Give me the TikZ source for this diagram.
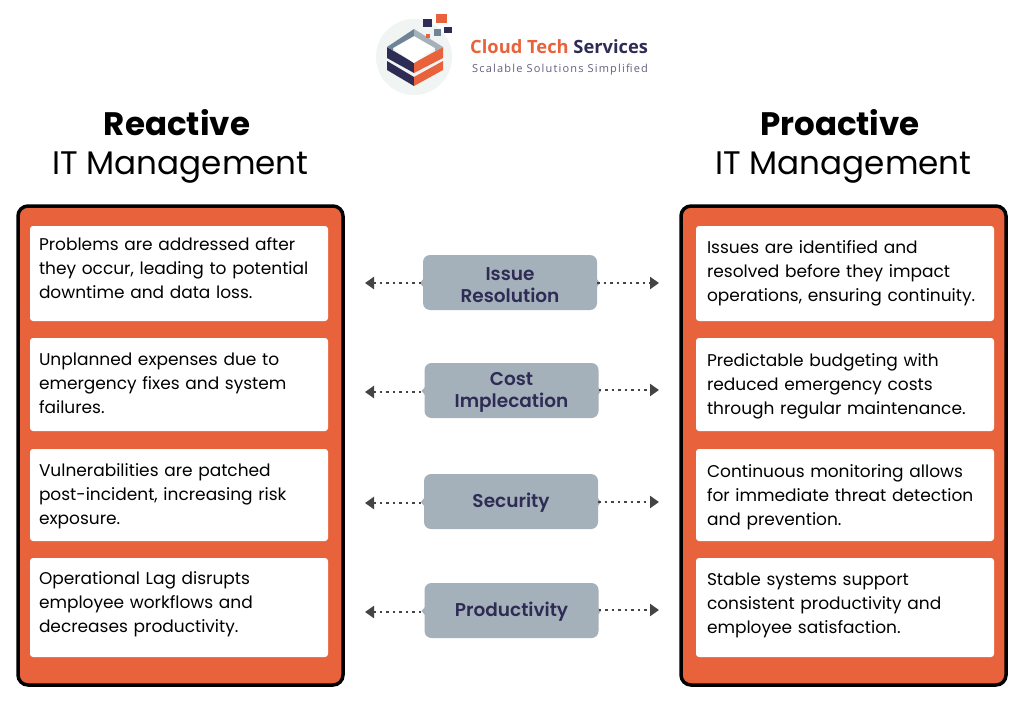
\documentclass[tikz,border=0pt]{standalone}
\usepackage{fontspec}
\setmainfont{Poppins}
\newfontfamily\tagfont{Poppins SemiBold}
\newfontfamily\logofont{Open Sans}
\newfontfamily\logosub[LetterSpace=10.8]{Open Sans}
\usetikzlibrary{positioning,arrows.meta}
\definecolor{panelorange}{HTML}{E8633B}
\definecolor{tagfill}{HTML}{A5B1BA}
\definecolor{navy}{HTML}{2E2C55}
\definecolor{slate}{HTML}{6F8597}
\definecolor{logoround}{HTML}{F0F4F3}
\definecolor{arrowgrey}{HTML}{444444}
\newcommand{\tagstrut}{\rule{0pt}{17.5pt}}
\begin{document}
\begin{tikzpicture}[x=1pt, y=-1pt,
    heading/.style={inner sep=0pt, font=\fontsize{32.6}{40}\selectfont},
    panel/.style={draw=black, line width=3.5pt, fill=panelorange, rounded corners=10pt, minimum width=325pt, minimum height=479pt},
    card/.style={fill=white, rounded corners=3pt, minimum width=298pt, inner sep=0pt},
    cardtext/.style={inner sep=0pt, text width=285pt, align=left, font=\fontsize{17}{24}\selectfont},
    tag/.style={fill=tagfill, rounded corners=7pt, minimum width=174pt, minimum height=55pt, inner sep=0pt, align=center, text=navy, font=\tagfont\fontsize{18.5}{22}\selectfont},
    nub/.style={fill=tagfill},
    link/.style={draw=arrowgrey, line width=2.3pt, dash pattern=on 2.3pt off 4.2pt}]
    \useasboundingbox (0,0) rectangle (1024,706);
    \fill[white] (0,0) rectangle (1024,706);

    % Logo
    \fill[logoround] (414,57) circle (38);
    \fill[navy] (387,47) -- (414,63) -- (414,73) -- (387,58) -- cycle;
    \fill[panelorange] (414,63) -- (443,47) -- (443,58) -- (414,73) -- cycle;
    \fill[navy] (387,61) -- (414,77) -- (414,86) -- (387,70) -- cycle;
    \fill[panelorange] (414,77) -- (443,61) -- (443,70) -- (414,86) -- cycle;
    \fill[white] (393,48) -- (414,36) -- (435,48) -- (414,63) -- cycle;
    \fill[slate] (387,47) -- (414,29) -- (414,36) -- (393,48) -- (393,50.5) -- cycle;
    \fill[tagfill] (414,29) -- (443,47) -- (435,51.5) -- (435,48) -- (414,36) -- cycle;
    \fill[panelorange] (436,14) rectangle (447,23);
    \fill[navy] (423,19) rectangle (432,27);
    \fill[navy] (444,27) rectangle (452,33);
    \fill[slate] (434,29) rectangle (441,36);
    \fill[panelorange] (426,34) rectangle (430,38);
    \node (brand) [inner sep=0pt, anchor=west, font=\logofont\fontsize{18.3}{22}\selectfont\bfseries] at (470,47) {\textcolor{panelorange}{Cloud Tech} \textcolor{navy}{Services}};
    \node (slogan) [inner sep=0pt, anchor=west, text=navy!75, font=\logosub\fontsize{11}{13}\selectfont] at (472,70) {Scalable Solutions Simplified};

    % Headings
    \node (reactive) [heading, font=\fontsize{32.5}{40}\selectfont\bfseries] at (177,122.5) {Reactive};
    \node (reactiveit) [heading] at (180.5,168) {IT Management};
    \node (proactive) [heading, font=\fontsize{32.5}{40}\selectfont\bfseries] at (840,122.5) {Proactive};
    \node (proactiveit) [heading] at (843.5,168) {IT Management};

    % Panels
    \node (left) [panel] at (180.5,445.5) {};
    \node (right) [panel] at (843.5,445.5) {};

    % Cards
    \node (l1) [card, minimum height=95pt] at (179,273.5) {};
    \node (l2) [card, minimum height=93pt] at (179,384.5) {};
    \node (l3) [card, minimum height=92pt] at (179,495) {};
    \node (l4) [card, minimum height=99pt] at (179,607.5) {};
    \node (r1) [card, minimum height=95pt] at (845,273.5) {};
    \node (r2) [card, minimum height=93pt] at (845,384.5) {};
    \node (r3) [card, minimum height=92pt] at (845,495) {};
    \node (r4) [card, minimum height=99pt] at (845,607.5) {};

    \node (lt1) [cardtext, right=9pt of l1.west, yshift=5.5pt] {Problems are addressed after\\they occur, leading to potential\\downtime and data loss.};
    \node (lt2) [cardtext, right=9pt of l2.west, yshift=1.5pt] {Unplanned expenses due to\\emergency fixes and system\\failures.};
    \node (lt3) [cardtext, right=9pt of l3.west, yshift=-1pt] {Vulnerabilities are patched\\post-incident, increasing risk\\exposure.};
    \node (lt4) [cardtext, right=9pt of l4.west, yshift=3.5pt] {Operational Lag disrupts\\employee workflows and\\decreases productivity.};
    \node (rt1) [cardtext, right=11pt of r1.west, yshift=0.5pt] {Issues are identified and\\resolved before they impact\\operations, ensuring continuity.};
    \node (rt2) [cardtext, right=11pt of r2.west, yshift=-1.5pt] {Predictable budgeting with\\reduced emergency costs\\through regular maintenance.};
    \node (rt3) [cardtext, right=11pt of r3.west, yshift=-2pt] {Continuous monitoring allows\\for immediate threat detection\\and prevention.};
    \node (rt4) [cardtext, right=11pt of r4.west, yshift=2.5pt] {Stable systems support\\consistent productivity and\\employee satisfaction.};

    % Tags
    \fill[nub] (420,283) -- (424,278) -- (424,288) -- cycle (600,283) -- (596,278) -- (596,288) -- cycle;
    \fill[nub] (421.5,391) -- (426,386) -- (426,396) -- cycle (601,391) -- (597,386) -- (597,396) -- cycle;
    \fill[nub] (421,502) -- (425,497) -- (425,507) -- cycle (601,502) -- (597,497) -- (597,507) -- cycle;
    \fill[nub] (421.5,611) -- (426,606) -- (426,616) -- cycle (601,611) -- (597,606) -- (597,616) -- cycle;
    \node (issue) [tag] at (510,282.5) {\tagstrut Issue\\Resolution};
    \node (cost) [tag] at (511.5,390.5) {\tagstrut Cost\\Implecation};
    \node (security) [tag] at (511,501.5) {\tagstrut Security};
    \node (productivity) [tag] at (511.5,610.5) {\tagstrut Productivity};

    \coordinate (issueleft) at (365,283);
    \coordinate (issueright) at (659,283);
    \coordinate (costleft) at (365,392);
    \coordinate (costright) at (659,390);
    \coordinate (securityleft) at (365,503);
    \coordinate (securityright) at (659,502);
    \coordinate (productivityleft) at (365,612);
    \coordinate (productivityright) at (659,610);

    % Edges
    \draw[link, {Triangle[length=9pt,width=12pt]}-] (issueleft) -- (issueleft -| issue.west);
    \draw[link, -{Triangle[length=9pt,width=12pt]}] (issueright -| issue.east) -- (issueright);
    \draw[link, {Triangle[length=9pt,width=12pt]}-] (costleft) -- (costleft -| cost.west);
    \draw[link, -{Triangle[length=9pt,width=12pt]}] (costright -| cost.east) -- (costright);
    \draw[link, {Triangle[length=9pt,width=12pt]}-] (securityleft) -- (securityleft -| security.west);
    \draw[link, -{Triangle[length=9pt,width=12pt]}] (securityright -| security.east) -- (securityright);
    \draw[link, {Triangle[length=9pt,width=12pt]}-] (productivityleft) -- (productivityleft -| productivity.west);
    \draw[link, -{Triangle[length=9pt,width=12pt]}] (productivityright -| productivity.east) -- (productivityright);
\end{tikzpicture}
\end{document}
